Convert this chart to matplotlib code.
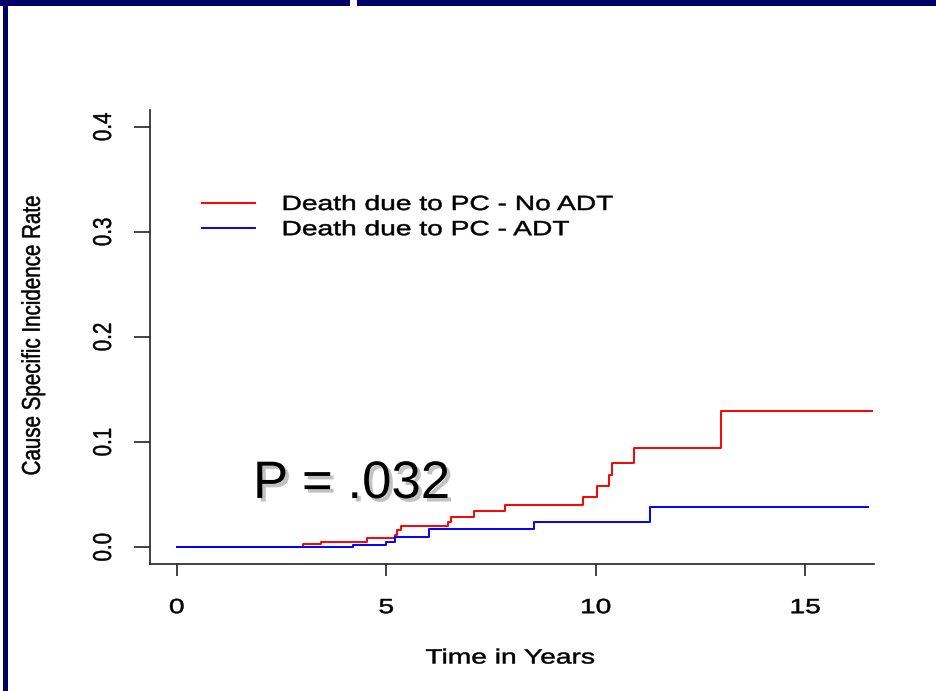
import matplotlib
matplotlib.use('Agg')
import matplotlib.pyplot as plt
import matplotlib.patheffects as pe
from matplotlib.transforms import Affine2D
from matplotlib.patches import Rectangle

# valores (incidencia acumulada, muerte por cancer de prostata)
t_no_adt = [0, 3.0, 3.43, 4.55, 5.2, 5.26, 5.34, 6.48, 6.54, 7.09, 7.84, 9.69, 10.03, 10.31, 10.39, 10.9, 12.98, 16.6]
cif_no_adt = [0, 0.003, 0.005, 0.009, 0.012, 0.016, 0.020, 0.024, 0.029, 0.034, 0.040, 0.048, 0.058, 0.069, 0.080, 0.094, 0.130, 0.130]
t_adt = [0, 4.21, 5.0, 5.2, 6.02, 8.52, 11.3, 16.49]
cif_adt = [0, 0.002, 0.005, 0.010, 0.017, 0.024, 0.038, 0.038]

xticks = [0, 5, 10, 15]
yticks = [0.0, 0.1, 0.2, 0.3, 0.4]
ytick_labels = ['0.0', '0.1', '0.2', '0.3', '0.4']
labels = ['Death due to PC - No ADT', 'Death due to PC - ADT']
p_text = 'P = .032'

W, H = 937, 691
plt.rcParams['font.family'] = 'Liberation Sans'


class Estirar(pe.AbstractPathEffect):
    # el grafico de R de la diapositiva esta estirado en horizontal
    def __init__(self, sx=1.0, sy=1.0, centro=False, grosor=0.35):
        super().__init__()
        self.sx, self.sy, self.centro, self.grosor = sx, sy, centro, grosor

    def draw_path(self, renderer, gc, tpath, affine, rgbFace=None):
        ext = tpath.get_extents()
        cx = (ext.x0 + ext.x1) / 2 if self.centro else 0
        cy = (ext.y0 + ext.y1) / 2 if self.centro else 0
        t = Affine2D().translate(-cx, -cy).scale(self.sx, self.sy).translate(cx, cy) + affine
        gc0 = renderer.new_gc()
        gc0.copy_properties(gc)
        gc0.set_linewidth(self.grosor)
        gc0.set_foreground(rgbFace)
        renderer.draw_path(gc0, tpath, t, rgbFace)
        gc0.restore()


SX = 1.37   # texto horizontal
SY = 1.25   # texto girado
fs = 14.8

fig = plt.figure(figsize=(W / 100, H / 100), dpi=100)
ax = fig.add_axes([150 / W, (H - 564) / H, (874 - 150) / W, (564 - 110) / H])

ax.step(t_no_adt, cif_no_adt, where='post', color='#ff0000', lw=1.4, label=labels[0])
ax.step(t_adt, cif_adt, where='post', color='#0000ff', lw=1.4, label=labels[1])

ax.set_xlim(-0.64, 16.64)
ax.set_ylim(-0.016, 0.416)
for s in ['top', 'right']:
    ax.spines[s].set_visible(False)
for s in ['left', 'bottom']:
    ax.spines[s].set_linewidth(1.2)
    ax.spines[s].set_color('#222222')

ax.set_xticks(xticks)
ax.set_xticklabels([str(v) for v in xticks])
ax.set_yticks(yticks)
ax.set_yticklabels(ytick_labels, rotation=90, va='center')
ax.tick_params(axis='x', length=8.6, width=1.2, color='#222222', pad=16, labelsize=fs)
ax.tick_params(axis='y', length=11.5, width=1.2, color='#222222', pad=15, labelsize=fs)
for tl in ax.get_xticklabels():
    tl.set_path_effects([Estirar(sx=SX, centro=True)])
for tl in ax.get_yticklabels():
    tl.set_path_effects([Estirar(sy=SY, centro=True)])

fig.text(510 / W, 1 - 658 / H, 'Time in Years', ha='center', va='center', fontsize=fs,
         path_effects=[Estirar(sx=SX, centro=True)])
fig.text(33 / W, 1 - 336 / H, 'Cause Specific Incidence Rate', rotation=90, ha='center', va='center',
         fontsize=fs, path_effects=[Estirar(sy=SY, centro=True)])

leg = ax.legend(loc='upper left', bbox_to_anchor=(202 / W, 1 - 195 / H), bbox_transform=fig.transFigure,
                frameon=False, fontsize=fs, handlelength=2.6, handletextpad=1.27,
                labelspacing=0.3, borderpad=0, borderaxespad=0)
for tx in leg.get_texts():
    tx.set_path_effects([Estirar(sx=SX)])

# texto de la diapositiva con sombra
fig.text(253 / W, 1 - 498 / H, p_text, ha='left', va='baseline', fontsize=38,
         path_effects=[pe.SimplePatchShadow(offset=(2.5, -2.5), shadow_rgbFace='#777777', alpha=0.45), pe.Normal()])

# marco azul de la diapositiva
navy = '#000066'
fig.add_artist(Rectangle((0, 1 - 6 / H), 350 / W, 6 / H, transform=fig.transFigure, color=navy, lw=0))
fig.add_artist(Rectangle((357 / W, 1 - 6 / H), 1 - 357 / W, 6 / H, transform=fig.transFigure, color=navy, lw=0))
fig.add_artist(Rectangle((3 / W, 0), 5 / W, 1 - 6 / H, transform=fig.transFigure, color=navy, lw=0))

plt.savefig('out.png', dpi=100)
